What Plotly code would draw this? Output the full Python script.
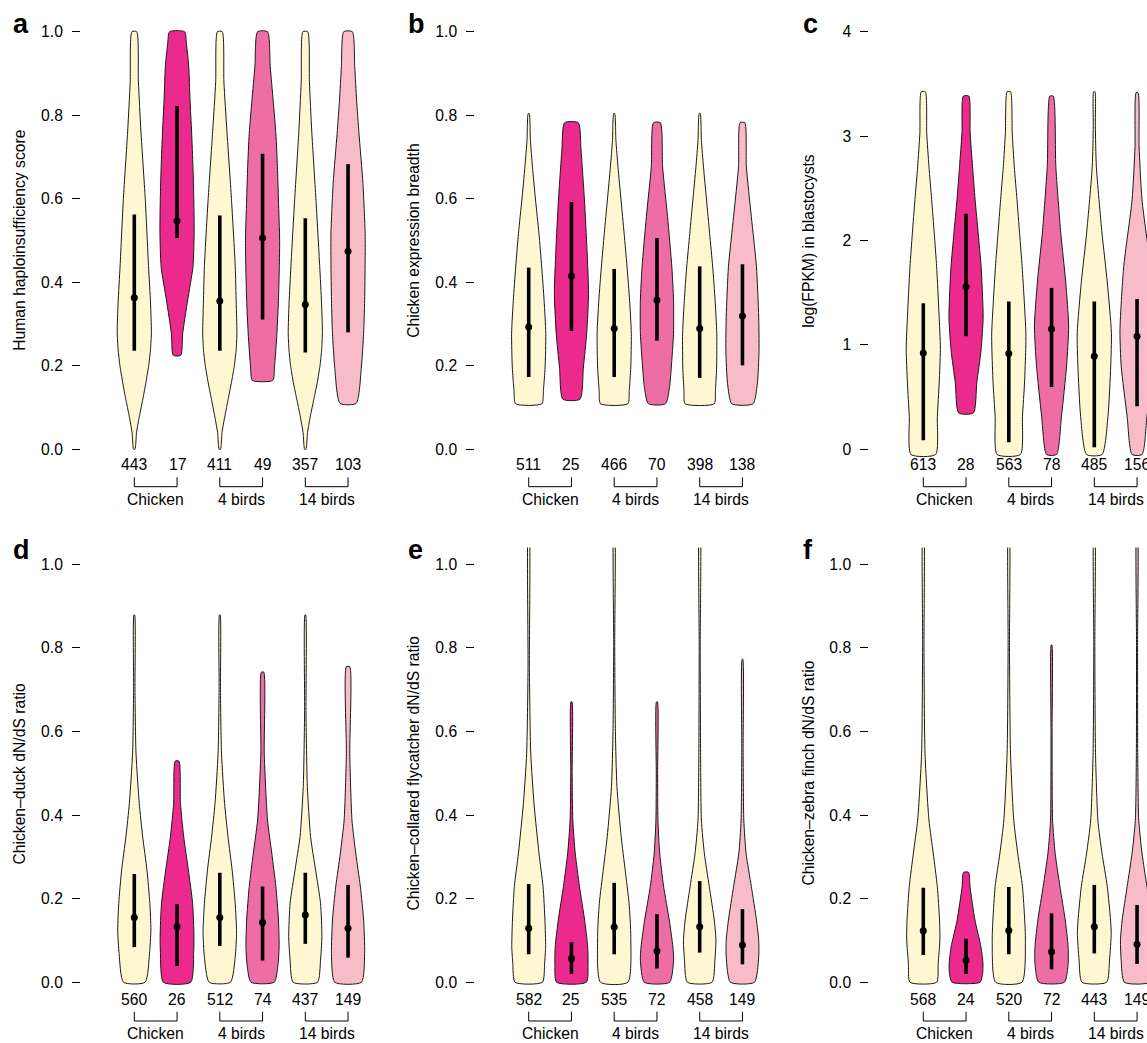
import plotly.graph_objects as go

# ---------------- data ----------------
groups = ["Chicken", "4 birds", "14 birds"]
colors = ["#FFF7D1", "#EC2A8E", "#FFF7D1", "#EF6DA5", "#FFF7D1", "#F8BCC9"]
letters = ["a", "b", "c", "d", "e", "f"]
titles = ["Human haploinsufficiency score", "Chicken expression breadth",
          "log(FPKM) in blastocysts", "Chicken\u2013duck dN/dS ratio",
          "Chicken\u2013collared flycatcher dN/dS ratio", "Chicken\u2013zebra finch dN/dS ratio"]

# panel a
a_levels = [[0.0, 0.04, 0.08, 0.12, 0.16, 0.2, 0.24, 0.28, 0.35, 0.44, 0.6, 0.76, 0.88, 1.0],
            [0.225, 0.277, 0.357, 0.437, 0.517, 0.6, 0.677, 0.76, 0.836, 0.92, 0.97, 1.0],
            [0.0, 0.04, 0.08, 0.12, 0.16, 0.2, 0.24, 0.28, 0.35, 0.44, 0.6, 0.76, 0.88, 1.0],
            [0.165, 0.197, 0.277, 0.357, 0.437, 0.5, 0.597, 0.677, 0.756, 0.836, 0.916, 1.0],
            [0.0, 0.04, 0.08, 0.12, 0.16, 0.2, 0.24, 0.28, 0.35, 0.44, 0.6, 0.76, 0.88, 1.0],
            [0.11, 0.197, 0.277, 0.357, 0.45, 0.517, 0.637, 0.756, 0.836, 0.916, 1.0]]
a_widths = [[0.04, 0.13, 0.3, 0.5, 0.68, 0.84, 0.95, 1.0, 0.95, 0.83, 0.64, 0.39, 0.24, 0.14],
            [0.22, 0.33, 0.62, 0.93, 1.0, 0.98, 0.93, 0.85, 0.76, 0.68, 0.55, 0.44],
            [0.04, 0.13, 0.3, 0.49, 0.68, 0.85, 0.96, 1.0, 0.96, 0.9, 0.68, 0.42, 0.24, 0.14],
            [0.6, 0.7, 0.84, 0.93, 0.98, 1.0, 0.93, 0.87, 0.78, 0.62, 0.45, 0.29],
            [0.04, 0.13, 0.3, 0.5, 0.7, 0.86, 0.96, 1.0, 0.95, 0.84, 0.62, 0.38, 0.24, 0.14],
            [0.47, 0.78, 0.91, 0.97, 1.0, 1.0, 0.87, 0.64, 0.5, 0.39, 0.25]]
a_median = [0.363, 0.547, 0.355, 0.506, 0.347, 0.474]
a_q1 = [0.236, 0.506, 0.236, 0.311, 0.232, 0.28]
a_q3 = [0.562, 0.822, 0.56, 0.708, 0.553, 0.683]
a_counts = [443, 17, 411, 49, 357, 103]

# panel b
b_levels = [[0.109, 0.141, 0.197, 0.277, 0.357, 0.437, 0.517, 0.597, 0.677, 0.74, 0.804],
            [0.12, 0.197, 0.277, 0.373, 0.477, 0.597, 0.716, 0.782],
            [0.109, 0.141, 0.197, 0.277, 0.357, 0.437, 0.517, 0.597, 0.677, 0.74, 0.804],
            [0.109, 0.15, 0.197, 0.277, 0.357, 0.437, 0.557, 0.677, 0.782],
            [0.109, 0.141, 0.197, 0.277, 0.357, 0.437, 0.517, 0.597, 0.677, 0.74, 0.804],
            [0.109, 0.157, 0.237, 0.317, 0.437, 0.557, 0.677, 0.782]]
b_widths = [[0.77, 0.86, 0.96, 1.0, 0.9, 0.76, 0.6, 0.4, 0.22, 0.1, 0.03],
            [0.5, 0.7, 0.89, 1.0, 0.91, 0.76, 0.56, 0.4],
            [0.8, 0.88, 0.97, 1.0, 0.9, 0.75, 0.58, 0.4, 0.22, 0.1, 0.03],
            [0.5, 0.74, 0.84, 0.97, 0.97, 0.87, 0.62, 0.33, 0.2],
            [0.85, 0.92, 0.99, 1.0, 0.9, 0.76, 0.58, 0.4, 0.22, 0.1, 0.03],
            [0.62, 0.87, 0.97, 0.95, 0.82, 0.52, 0.23, 0.14]]
b_median = [0.293, 0.415, 0.289, 0.357, 0.289, 0.319]
b_q1 = [0.173, 0.283, 0.173, 0.26, 0.171, 0.201]
b_q3 = [0.435, 0.592, 0.432, 0.506, 0.438, 0.443]
b_counts = [511, 25, 466, 70, 398, 138]

# panel c
c_levels = [[-0.05, 0.316, 0.636, 0.955, 1.115, 1.43, 1.75, 2.07, 2.39, 2.71, 3.03, 3.425],
            [0.348, 0.636, 0.955, 1.27, 1.75, 2.07, 2.39, 2.71, 3.03, 3.383],
            [-0.05, 0.316, 0.636, 0.955, 1.115, 1.43, 1.75, 2.07, 2.39, 2.71, 3.03, 3.425],
            [-0.05, 0.316, 0.8, 1.18, 1.6, 2.07, 2.71, 3.383],
            [-0.05, 0.316, 0.8, 1.115, 1.6, 2.07, 2.71, 3.1, 3.425],
            [-0.05, 0.316, 0.8, 1.115, 1.27, 1.75, 2.39, 2.9, 3.415]]
c_widths = [[0.72, 0.82, 0.93, 1.0, 0.97, 0.88, 0.78, 0.64, 0.49, 0.33, 0.2, 0.12],
            [0.43, 0.63, 0.88, 1.0, 0.88, 0.71, 0.53, 0.38, 0.24, 0.16],
            [0.68, 0.8, 0.92, 0.99, 1.0, 0.9, 0.78, 0.63, 0.48, 0.32, 0.2, 0.1],
            [0.29, 0.58, 0.88, 1.0, 0.83, 0.54, 0.25, 0.1],
            [0.45, 0.8, 0.96, 1.0, 0.76, 0.45, 0.12, 0.06, 0.04],
            [0.29, 0.58, 0.93, 1.0, 0.97, 0.78, 0.29, 0.12, 0.06]]
c_median = [0.923, 1.556, 0.917, 1.153, 0.891, 1.083]
c_q1 = [0.086, 1.083, 0.067, 0.597, 0.019, 0.412]
c_q3 = [1.40, 2.256, 1.415, 1.546, 1.415, 1.44]
c_counts = [613, 28, 563, 78, 485, 156]

# panel d
d_levels = [[0.0, 0.069, 0.125, 0.189, 0.269, 0.348, 0.428, 0.548, 0.7, 0.879],
            [0.0, 0.069, 0.109, 0.189, 0.269, 0.348, 0.428, 0.529],
            [0.0, 0.06, 0.12, 0.189, 0.269, 0.348, 0.428, 0.548, 0.7, 0.879],
            [0.0, 0.037, 0.085, 0.149, 0.229, 0.309, 0.388, 0.548, 0.742],
            [0.0, 0.053, 0.109, 0.189, 0.269, 0.348, 0.468, 0.65, 0.879],
            [0.0, 0.069, 0.149, 0.229, 0.309, 0.388, 0.548, 0.755]]
d_widths = [[0.63, 0.89, 0.97, 0.91, 0.74, 0.49, 0.29, 0.1, 0.04, 0.02],
            [0.8, 0.97, 0.99, 0.91, 0.66, 0.39, 0.2, 0.11],
            [0.62, 0.9, 0.98, 0.9, 0.72, 0.48, 0.28, 0.1, 0.04, 0.02],
            [0.68, 0.89, 0.97, 0.93, 0.78, 0.54, 0.29, 0.1, 0.07],
            [0.71, 0.89, 0.97, 0.89, 0.6, 0.31, 0.12, 0.04, 0.02],
            [0.78, 0.97, 0.91, 0.72, 0.45, 0.23, 0.1, 0.1]]
d_median = [0.155, 0.133, 0.155, 0.143, 0.161, 0.129]
d_q1 = [0.084, 0.039, 0.087, 0.052, 0.092, 0.059]
d_q3 = [0.259, 0.187, 0.262, 0.229, 0.262, 0.233]
d_counts = [560, 26, 512, 74, 437, 149]

# panel e
e_levels = [[0.0, 0.045, 0.085, 0.149, 0.229, 0.309, 0.428, 0.548, 0.75, 1.1],
            [0.0, 0.045, 0.085, 0.149, 0.229, 0.309, 0.388, 0.5, 0.671],
            [0.0, 0.109, 0.189, 0.269, 0.348, 0.468, 0.6, 0.8, 1.1],
            [0.0, 0.053, 0.085, 0.149, 0.229, 0.309, 0.388, 0.5, 0.671],
            [0.0, 0.053, 0.101, 0.149, 0.229, 0.309, 0.388, 0.55, 0.8, 1.1],
            [0.0, 0.061, 0.101, 0.149, 0.229, 0.309, 0.388, 0.55, 0.773]]
e_widths = [[0.8, 0.93, 0.99, 0.95, 0.84, 0.6, 0.31, 0.12, 0.04, 0.02],
            [0.87, 0.97, 0.95, 0.77, 0.47, 0.22, 0.08, 0.04, 0.03],
            [0.8, 0.97, 0.87, 0.64, 0.41, 0.16, 0.07, 0.03, 0.02],
            [0.74, 0.97, 0.93, 0.72, 0.39, 0.16, 0.06, 0.04, 0.03],
            [0.72, 0.89, 0.95, 0.85, 0.56, 0.27, 0.1, 0.05, 0.03, 0.02],
            [0.7, 0.95, 0.95, 0.82, 0.52, 0.21, 0.08, 0.04, 0.02]]
e_median = [0.129, 0.057, 0.132, 0.075, 0.133, 0.089]
e_q1 = [0.067, 0.02, 0.067, 0.033, 0.071, 0.043]
e_q3 = [0.235, 0.096, 0.238, 0.163, 0.242, 0.175]
e_counts = [582, 25, 535, 72, 458, 149]

# panel f
f_levels = [[0.0, 0.045, 0.101, 0.149, 0.229, 0.309, 0.388, 0.548, 0.8, 1.1],
            [0.0, 0.021, 0.045, 0.085, 0.149, 0.229, 0.263],
            [0.0, 0.101, 0.149, 0.229, 0.309, 0.388, 0.548, 0.8, 1.1],
            [0.0, 0.045, 0.085, 0.149, 0.229, 0.309, 0.388, 0.6, 0.807],
            [0.0, 0.053, 0.117, 0.149, 0.229, 0.309, 0.388, 0.55, 0.8, 1.1],
            [0.0, 0.053, 0.101, 0.149, 0.229, 0.309, 0.388, 0.55, 0.8, 1.1]]
f_widths = [[0.78, 0.87, 0.97, 0.95, 0.82, 0.58, 0.33, 0.1, 0.04, 0.02],
            [0.82, 0.97, 0.99, 0.87, 0.52, 0.23, 0.15],
            [0.77, 0.97, 0.93, 0.8, 0.52, 0.29, 0.1, 0.04, 0.02],
            [0.75, 0.97, 0.97, 0.8, 0.49, 0.21, 0.06, 0.03, 0.02],
            [0.72, 0.89, 0.99, 0.95, 0.76, 0.45, 0.21, 0.07, 0.03, 0.02],
            [0.74, 0.93, 0.97, 0.87, 0.58, 0.29, 0.1, 0.04, 0.03, 0.02]]
f_median = [0.123, 0.053, 0.124, 0.073, 0.133, 0.091]
f_q1 = [0.065, 0.02, 0.067, 0.031, 0.069, 0.044]
f_q3 = [0.226, 0.104, 0.228, 0.165, 0.233, 0.185]
f_counts = [568, 24, 520, 72, 443, 149]

panels = [
    (a_levels, a_widths, a_median, a_q1, a_q3, a_counts),
    (b_levels, b_widths, b_median, b_q1, b_q3, b_counts),
    (c_levels, c_widths, c_median, c_q1, c_q3, c_counts),
    (d_levels, d_widths, d_median, d_q1, d_q3, d_counts),
    (e_levels, e_widths, e_median, e_q1, e_q3, e_counts),
    (f_levels, f_widths, f_median, f_q1, f_q3, f_counts),
]

# ---------------- layout geometry (pixels) ----------------
W, H = 1147, 1043
FONT = "Liberation Sans, Arial, Helvetica, sans-serif"
FS = 15.7
HALF = 0.4            # max half-width of a violin in x units
SP = 42.75            # px between violins
col_dom = [(81.0, 372.0, 134.3), (475.3, 765.0, 528.7), (869.3, 1147.0, 923.3)]
row_dom = [(15.0, 466.0), (547.6, 999.0)]
yranges = [(-0.04, 1.04), (-0.04, 1.04), (-0.16, 4.16),
           (-0.04, 1.04), (-0.04, 1.04), (-0.04, 1.04)]
title_x = [19.3, 413.3, 808.3]
letter_x = [11.0, 406.0, 801.0]
letter_y = [23.5, 550.0]
count_y = [464.4, 999.2]
bracket_y = [(477.3, 486.7), (1011.7, 1021.0)]
group_y = [499.8, 1033.8]

def px(x):
    return x / W

def py(y):
    return 1 - y / H

fig = go.Figure()
layout = dict(width=W, height=H, margin=dict(l=0, r=0, t=0, b=0),
              paper_bgcolor="white", plot_bgcolor="white", showlegend=False,
              font=dict(family=FONT, size=FS, color="black"))
annotations = []
shapes = []

for k, (levels, widths, med, q1, q3, counts) in enumerate(panels):
    r, c = divmod(k, 3)
    xa = "x" if k == 0 else f"x{k+1}"
    ya = "y" if k == 0 else f"y{k+1}"
    x0p, x1p, c0 = col_dom[c]
    top, bot = row_dom[r]
    xr = [1 - (c0 - x0p) / SP, 1 + (x1p - c0) / SP]
    axn = "" if k == 0 else str(k + 1)
    layout["xaxis" + axn] = dict(domain=[px(x0p), px(x1p)], range=xr, visible=False,
                                 anchor=ya, fixedrange=True)
    if k == 2:
        tv = [0, 1, 2, 3, 4]
        tt = [str(v) for v in tv]
    else:
        tv = [0, 0.2, 0.4, 0.6, 0.8, 1.0]
        tt = [f"{v:.1f}" for v in tv]
    layout["yaxis" + axn] = dict(domain=[py(bot), py(top)], range=list(yranges[k]),
                                 anchor=xa, showgrid=False, zeroline=False, showline=False,
                                 ticks="outside", ticklen=8, tickwidth=1, tickcolor="black",
                                 tickvals=tv, ticktext=tt, ticklabelstandoff=6,
                                 tickfont=dict(family=FONT, size=FS, color="black"),
                                 fixedrange=True)
    # violins
    for i in range(6):
        pos = i + 1
        lv = levels[i]
        wd = widths[i]
        xs = [pos + HALF * w for w in wd] + [pos - HALF * w for w in reversed(wd)]
        ys = list(lv) + list(reversed(lv))
        xs.append(xs[0])
        ys.append(ys[0])
        fig.add_trace(go.Scatter(x=xs, y=ys, xaxis=xa, yaxis=ya, mode="lines",
                                 fill="toself", fillcolor=colors[i],
                                 line=dict(color="#1a1a1a", width=1, shape="spline", smoothing=0.6),
                                 hoverinfo="skip"))
    # IQR bars
    bx, by = [], []
    for i in range(6):
        bx += [i + 1, i + 1, None]
        by += [q1[i], q3[i], None]
    fig.add_trace(go.Scatter(x=bx, y=by, xaxis=xa, yaxis=ya, mode="lines",
                             line=dict(color="black", width=3.6), hoverinfo="skip"))
    fig.add_trace(go.Scatter(x=list(range(1, 7)), y=med, xaxis=xa, yaxis=ya, mode="markers",
                             marker=dict(color="black", size=7), hoverinfo="skip"))
    # counts
    for i in range(6):
        annotations.append(dict(x=i + 1, y=py(count_y[r]), xref=xa, yref="paper",
                                text=str(counts[i]), showarrow=False, xanchor="center",
                                yanchor="middle", font=dict(family=FONT, size=FS, color="black")))
    # brackets and group labels
    yb0, yb1 = bracket_y[r]
    for g in range(3):
        xl, xr2 = 2 * g + 1, 2 * g + 2
        shapes.append(dict(type="path", xref=xa, yref="paper",
                           path=f"M {xl},{py(yb0)} L {xl},{py(yb1)} L {xr2},{py(yb1)} L {xr2},{py(yb0)}",
                           line=dict(color="black", width=1)))
        annotations.append(dict(x=(xl + xr2) / 2, y=py(group_y[r]), xref=xa, yref="paper",
                                text=groups[g], showarrow=False, xanchor="center", yanchor="middle",
                                font=dict(family=FONT, size=FS, color="black")))
    # axis title
    annotations.append(dict(x=px(title_x[c]), y=py((top + bot) / 2), xref="paper", yref="paper",
                            text=titles[k], textangle=-90, showarrow=False, xanchor="center",
                            yanchor="middle", font=dict(family=FONT, size=FS, color="black")))
    # panel letter
    annotations.append(dict(x=px(letter_x[c]), y=py(letter_y[r]), xref="paper", yref="paper",
                            text="<b>" + letters[k] + "</b>", showarrow=False, xanchor="left",
                            yanchor="middle", font=dict(family=FONT, size=27, color="black")))

layout["annotations"] = annotations
layout["shapes"] = shapes
fig.update_layout(**layout)
fig.write_html("out.html", config={"displayModeBar": False},
               post_script="document.body.style.margin='0';"
                           "document.documentElement.style.overflow='hidden';"
                           "document.body.style.overflow='hidden';")
